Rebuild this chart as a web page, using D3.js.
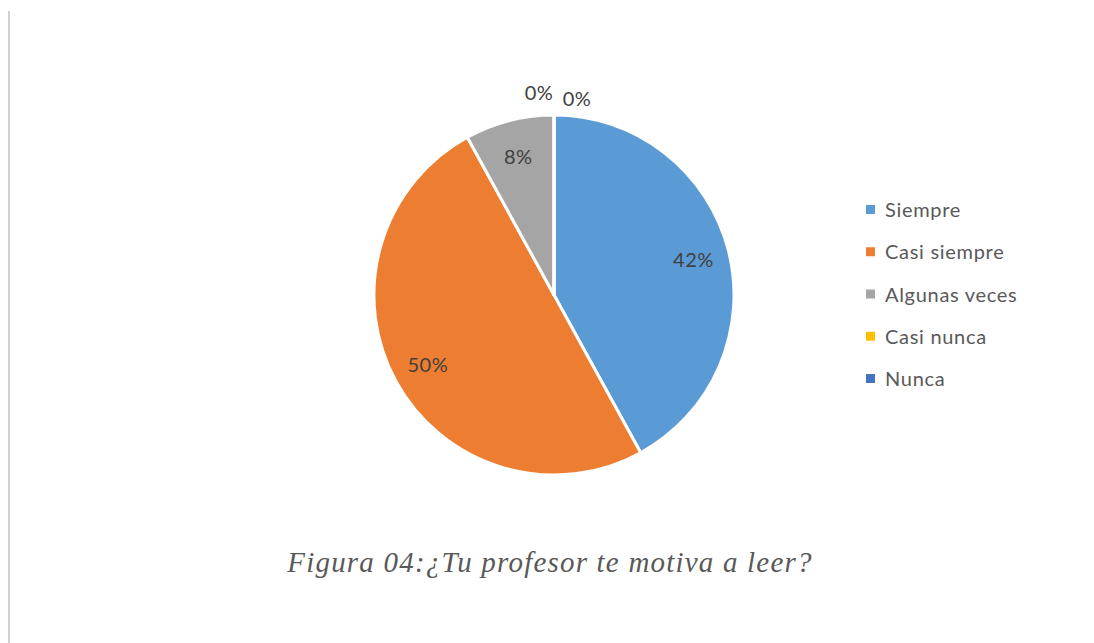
<!DOCTYPE html>
<html><head><meta charset="utf-8">
<script src="https://cdn.jsdelivr.net/npm/d3@7"></script>
<style>body{margin:0;background:#fff}svg{display:block}</style>
</head><body>
<svg id="c" width="1094" height="643"></svg>
<script>
const categories = ["Siempre","Casi siempre","Algunas veces","Casi nunca","Nunca"];
const values = [42, 50, 8, 0, 0];
const labels = ["42%","50%","8%","0%","0%"];
const colors = ["#5B9BD5","#ED7D31","#A5A5A5","#FFC000","#4472C4"];
const title = "Figura 04:¿Tu profesor te motiva a leer?";

const svg = d3.select("#c");
svg.append("rect").attr("x",0).attr("y",0).attr("width",1094).attr("height",643).attr("fill","#fff");
svg.append("line").attr("x1",9).attr("x2",9).attr("y1",11).attr("y2",643).attr("stroke","#d0d0d0").attr("stroke-width",2);

const cx = 554, cy = 295, r = 180;
const g = svg.append("g").attr("transform",`translate(${cx},${cy})`);
const pie = d3.pie().sort(null).value(d=>d)(values);
const arc = d3.arc().innerRadius(0).outerRadius(r);
g.selectAll("path").data(pie).enter().append("path")
  .attr("d",arc).attr("fill",(d,i)=>colors[i])
  .attr("stroke","#fff").attr("stroke-width",3).attr("stroke-linejoin","round");

const inner = d3.arc().innerRadius(r*0.8).outerRadius(r*0.8);
const outer = d3.arc().innerRadius(r*1.13).outerRadius(r*1.13);
const zeroOffsets = [-15, 23];
const zeroDy = [0, 6];
let zi = 0;
g.selectAll("text.lbl").data(pie).enter().append("text")
  .attr("class","lbl")
  .each(function(d,i){
    let x,y;
    if (d.value > 0) { [x,y] = inner.centroid(d); }
    else { [x,y] = outer.centroid(d); x += zeroOffsets[zi]; y += zeroDy[zi]; zi++; }
    d3.select(this).attr("x",x).attr("y",y);
  })
  .attr("text-anchor","middle").attr("dominant-baseline","central")
  .attr("font-family","Lato, 'Open Sans', sans-serif").attr("font-size",20)
  .attr("letter-spacing",0.5)
  .attr("fill","#404040").text((d,i)=>labels[i]);

const leg = svg.append("g").attr("transform","translate(866,209)");
const ly = d3.scalePoint().domain(categories).range([0,169]);
categories.forEach((c,i)=>{
  leg.append("rect").attr("x",0).attr("y",ly(c)-4).attr("width",9).attr("height",9).attr("fill",colors[i]);
  leg.append("text").attr("x",19).attr("y",ly(c)).attr("dominant-baseline","central")
    .attr("font-family","Lato, 'Open Sans', sans-serif").attr("font-size",20)
    .attr("fill","#595959").attr("letter-spacing",0.7).text(c);
});

svg.append("text").attr("x",550).attr("y",572).attr("text-anchor","middle")
  .attr("font-family","'Liberation Serif', 'Times New Roman', serif").attr("font-style","italic")
  .attr("font-size",29).attr("letter-spacing",1.2).attr("fill","#595959").text(title);
</script>
</body></html>
